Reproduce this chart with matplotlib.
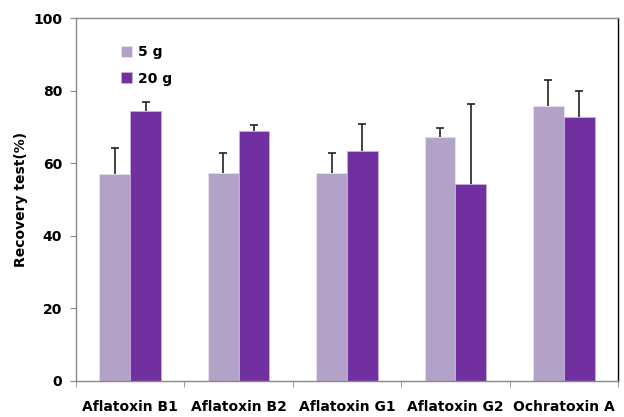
import matplotlib
matplotlib.use("Agg")
import matplotlib.pyplot as plt
import numpy as np
from matplotlib.ticker import FixedLocator

categories = ["Aflatoxin B1", "Aflatoxin B2", "Aflatoxin G1", "Aflatoxin G2", "Ochratoxin A"]
series_names = ["5 g", "20 g"]
vals_5g = [57.0, 57.3, 57.3, 67.1, 75.8]
err_5g = [7.2, 5.5, 5.5, 2.7, 7.0]
vals_20g = [74.4, 68.9, 63.4, 54.2, 72.6]
err_20g = [2.5, 1.6, 7.4, 22.2, 7.3]
yticks = [0, 20, 40, 60, 80, 100]

plt.rcParams['font.family'] = ['DejaVu Sans']
fig = plt.figure(figsize=(6.24, 4.17), dpi=100)
ax = fig.add_axes([76/624, 1-381/417, (618-76)/624, (381-18)/417])

x = np.arange(len(categories))
w = 0.285
c_light = "#B3A2C7"
c_dark = "#7030A0"
ax.bar(x - w/2, vals_5g, w, color=c_light, edgecolor="#e8e0f0", linewidth=0.6, label=series_names[0])
ax.bar(x + w/2, vals_20g, w, color=c_dark, edgecolor="#c8b0e0", linewidth=0.6, label=series_names[1])
for xs, v, e in [(x - w/2, vals_5g, err_5g), (x + w/2, vals_20g, err_20g)]:
    _, caps, _ = ax.errorbar(xs, v, yerr=[np.zeros(len(e)), e], fmt="none",
                             ecolor="#222222", elinewidth=1.2, capsize=3.2, capthick=1.2)
    caps[0].set_visible(False)

ax.set_xlim(-0.5, len(categories) - 0.5)
ax.set_ylim(0, 100)
ax.set_yticks(yticks)
ax.set_yticklabels([str(t) for t in yticks], fontsize=10, fontweight="bold")
ax.set_xticks(x)
ax.set_xticklabels(categories, fontsize=10, fontweight="bold")
ax.xaxis.set_minor_locator(FixedLocator(np.arange(-0.5, len(categories), 1.0)))
ax.tick_params(axis="x", which="major", length=0, pad=14)
ax.tick_params(axis="x", which="minor", length=4, color="#888888", direction="out")
ax.tick_params(axis="y", length=4, color="#888888", direction="out", pad=6)
for s in ["left", "bottom", "top"]:
    ax.spines[s].set_color("#888888")
    ax.spines[s].set_linewidth(1.0)
ax.spines["right"].set_color("#000000")
ax.spines["right"].set_linewidth(1.0)

ax.set_ylabel("Recovery test(%)", fontsize=10, fontweight="bold", labelpad=4)

ax.legend(loc="upper left", bbox_to_anchor=(0.06, 0.96), frameon=False,
          prop={"weight": "bold", "size": 10}, handlelength=0.8, handleheight=0.8,
          handletextpad=0.4, labelspacing=0.9)

fig.savefig("out.png", dpi=100)
